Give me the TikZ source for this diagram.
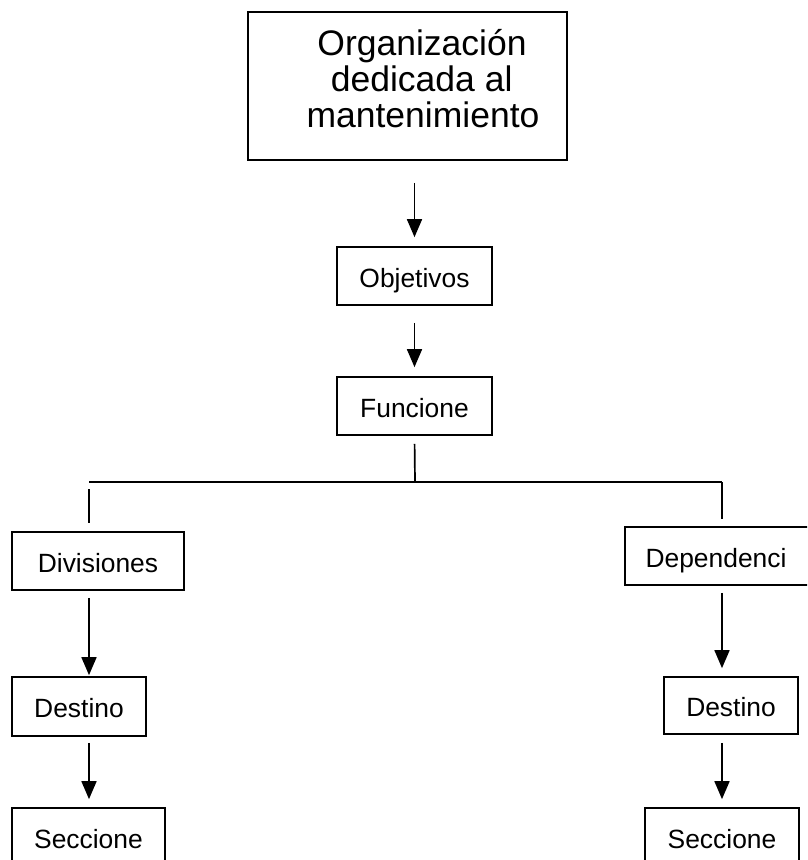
\documentclass[tikz,border=0pt]{standalone}
\usepackage{fontspec}
\setmainfont{Liberation Sans}
\usetikzlibrary{arrows.meta}

\begin{document}
\begin{tikzpicture}[x=1pt,y=-1pt,
  box/.style={draw, line width=1.7pt, inner sep=0pt, text height=22pt, text depth=0pt,
    font=\fontsize{26.4}{30}\selectfont},
  frame/.style={draw, line width=1.7pt, inner sep=0pt},
  bigtext/.style={anchor=base, inner sep=0pt, font=\fontsize{35.5}{40}\selectfont},
  conn/.style={line width=1.7pt},
  arr/.style={line width=1.7pt, -{Triangle[width=15pt,length=18pt]}}]

\useasboundingbox (0,0) rectangle (807,860);
\clip (0,0) rectangle (807,860);

% header box with its three text lines
\node[frame, minimum width=319pt, minimum height=148pt] (top) at (407.5,86) {};
\node[bigtext] (t1) at (422,55) {Organización};
\node[bigtext] (t2) at (427,91) {dedicada al\hspace*{0.3em}};
\node[bigtext] (t3) at (423,127) {mantenimiento};

% central column
\node[box, minimum width=155pt, minimum height=58pt] (obj) at (414.5,276) {Objetivos};
\node[box, minimum width=155pt, minimum height=58pt] (fun) at (414.5,406) {Funcione};

% left branch
\node[box, minimum width=172pt, minimum height=58pt] (div) at (98,561) {Divisiones};
\node[box, minimum width=134pt, minimum height=59pt] (dstL) at (79,706.5) {Destino};
\node[box, minimum width=153pt, minimum height=58pt] (secL) at (88.5,837) {Seccione};

% right branch
\node[box, minimum width=200pt, minimum height=58pt] (dep) at (725,556) {Dependenci\hspace*{18pt}};
\node[box, minimum width=134pt, minimum height=57pt] (dstR) at (731,705.5) {Destino};
\node[box, minimum width=154pt, minimum height=58pt] (secR) at (722,837) {Seccione};

% branching bar
\coordinate (jn) at (415,482);
\coordinate (bl) at (89,482);
\coordinate (br) at (722,482);

% connectors down the centre
\draw[arr, shorten <=22pt, shorten >=9pt] (top.south -| obj.south) -- (obj.north);
\draw[arr, shorten <=17pt, shorten >=9pt] (obj.south) -- (fun.north);
\draw[conn, shorten <=8pt] (fun.south) -- (jn);
\draw[conn] (bl) -- (br);

% drops to the two branches
\draw[conn, shorten <=7pt, shorten >=8pt] (bl) -- (bl |- div.north);
\draw[conn, shorten >=7pt] (br) -- (br |- dep.north);

% left chain
\draw[arr, shorten <=7pt, shorten >=1pt] (bl |- div.south) -- (bl |- dstL.north);
\draw[arr, shorten <=6pt, shorten >=8pt] (bl |- dstL.south) -- (bl |- secL.north);

% right chain
\draw[arr, shorten <=7pt, shorten >=8pt] (br |- dep.south) -- (br |- dstR.north);
\draw[arr, shorten <=8pt, shorten >=8pt] (br |- dstR.south) -- (br |- secR.north);
\end{tikzpicture}
\end{document}
